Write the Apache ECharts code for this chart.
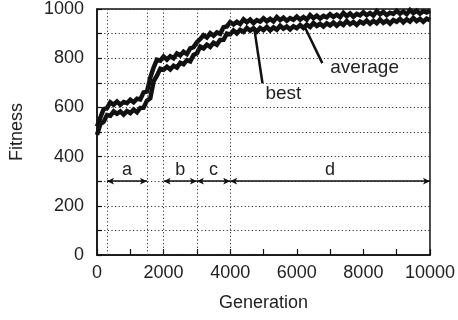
<!DOCTYPE html>
<html><head><meta charset="utf-8">
<script src="https://cdn.jsdelivr.net/npm/echarts@6/dist/echarts.min.js"></script>
<style>html,body{margin:0;padding:0;background:#fff}#c{width:458px;height:320px}</style>
</head><body><div id="c"></div>
<script>
const generations = [0,100,200,300,400,500,600,700,800,900,1000,1100,1200,1300,1400,1500,1600,1700,1800,1900,2000,2100,2200,2300,2400,2500,2600,2700,2800,2900,3000,3100,3200,3300,3400,3500,3600,3700,3800,3900,4000,4100,4200,4300,4400,4500,4600,4700,4800,4900,5000,5100,5200,5300,5400,5500,5600,5700,5800,5900,6000,6100,6200,6300,6400,6500,6600,6700,6800,6900,7000,7100,7200,7300,7400,7500,7600,7700,7800,7900,8000,8100,8200,8300,8400,8500,8600,8700,8800,8900,9000,9100,9200,9300,9400,9500,9600,9700,9800,9900,10000];
const best = [522,559,593,597,621,611,624,611,622,617,631,621,635,632,661,664,721,762,794,790,807,794,808,800,819,811,826,817,840,845,865,878,893,884,902,891,905,899,926,929,947,937,948,939,958,946,957,943,955,949,962,950,960,950,967,955,965,952,963,956,969,957,967,957,975,963,973,961,972,966,979,968,977,967,984,971,982,969,980,974,987,975,984,973,991,978,988,975,985,980,993,981,990,979,996,983,993,981,991,986,994];
const average = [488,532,542,569,566,584,574,584,571,585,577,591,580,598,599,627,637,706,729,757,753,765,754,769,762,781,775,792,787,813,820,847,840,855,846,863,855,874,875,900,897,913,901,915,907,923,912,922,908,923,914,927,913,925,916,932,920,929,917,930,922,935,923,936,927,943,931,940,929,942,933,945,932,944,935,951,938,947,935,949,941,953,940,952,942,957,944,953,941,955,948,960,946,958,949,964,951,960,948,961,955];
const seriesNames = ['best', 'average'];
const phaseBounds = [300, 1500, 2000, 3000, 4000];
const phaseNames = ['a', 'b', 'c', 'd'];
const phaseFrom = [300, 2000, 3000, 4000];
const phaseTo = [1500, 3000, 4000, 10000];
const phaseLevel = 300;
const xLabelStep = 2000;
const yLabelStep = 200;

const FONT = '"Liberation Sans", Arial, Helvetica, sans-serif';
const INK = '#111';
const TXT = '#222';
const dotted = { type: [1.2, 2.4], color: '#333', width: 1 };

const chart = echarts.init(document.getElementById('c'), null, { renderer: 'canvas' });
chart.setOption({
  animation: false,
  textStyle: { fontFamily: FONT },
  grid: { left: 97, right: 27, top: 9, bottom: 65, show: true, borderColor: INK, borderWidth: 1.5, backgroundColor: 'transparent' },
  xAxis: {
    type: 'value', min: 0, max: 10000, interval: 1000,
    axisLine: { show: true, lineStyle: { color: INK, width: 1.5 } },
    axisTick: { show: true, inside: true, length: 6, lineStyle: { color: INK, width: 1.2 } },
    axisLabel: { fontSize: 18, color: TXT, margin: 9, fontFamily: FONT, formatter: v => (v % xLabelStep === 0 ? String(v) : '') },
    splitLine: { show: false },
    name: 'Generation', nameLocation: 'middle', nameGap: 39,
    nameTextStyle: { fontSize: 18, color: TXT, fontFamily: FONT }
  },
  yAxis: {
    type: 'value', min: 0, max: 1000, interval: 100,
    axisLine: { show: true, lineStyle: { color: INK, width: 1.5 } },
    axisTick: { show: true, inside: true, length: 5, lineStyle: { color: INK, width: 1.2 } },
    axisLabel: { fontSize: 18, color: TXT, margin: 13, fontFamily: FONT, formatter: v => (v % yLabelStep === 0 ? String(v) : '') },
    splitLine: { show: true, lineStyle: dotted },
    name: 'Fitness', nameLocation: 'middle', nameGap: 71, nameRotate: 90,
    nameTextStyle: { fontSize: 18, color: TXT, fontFamily: FONT }
  },
  series: [
    {
      type: 'line', data: [], silent: true,
      markLine: {
        silent: true, symbol: 'none', animation: false,
        label: { show: false },
        lineStyle: dotted,
        data: phaseBounds.map(v => ({ xAxis: v }))
      }
    },
    {
      name: seriesNames[0], type: 'line', showSymbol: false, symbol: 'none',
      data: generations.map((g, i) => [g, best[i]]),
      lineStyle: { color: INK, width: 4.5, join: 'miter' }, z: 3
    },
    {
      name: seriesNames[1], type: 'line', showSymbol: false, symbol: 'none',
      data: generations.map((g, i) => [g, average[i]]),
      lineStyle: { color: INK, width: 4.5, join: 'miter' }, z: 3
    },
    {
      type: 'line', data: [], silent: true,
      markLine: {
        silent: true, animation: false,
        symbol: ['arrow', 'arrow'], symbolSize: [5, 7],
        lineStyle: { type: 'solid', color: INK, width: 1.5 },
        label: { show: true, position: 'middle', formatter: '{b}', fontSize: 18, color: TXT, fontFamily: FONT, distance: 2 },
        data: phaseNames.map((n, i) => [
          { name: n, coord: [phaseFrom[i], phaseLevel] },
          { coord: [phaseTo[i], phaseLevel] }
        ])
      }
    }
  ]
});

// Annotation pointers ("best", "average"), given in data coordinates
const annotations = [
  { text: 'best', at: [5060, 655], from: [4730, 914], to: [4970, 698] },
  { text: 'average', at: [7006, 761], from: [6257, 922], to: [6766, 780] }
];
const px = p => chart.convertToPixel({ gridIndex: 0 }, p);
const graphics = [];
annotations.forEach(a => {
  const f = px(a.from), t = px(a.to), l = px(a.at);
  graphics.push({ type: 'line', z: 10, shape: { x1: f[0], y1: f[1], x2: t[0], y2: t[1] }, style: { stroke: INK, lineWidth: 2.5 } });
  graphics.push({ type: 'text', z: 10, x: l[0], y: l[1], style: { text: a.text, fill: TXT, fontSize: 19, fontFamily: FONT, align: 'left', verticalAlign: 'middle' } });
});
chart.setOption({ graphic: graphics });
</script>
</body></html>
